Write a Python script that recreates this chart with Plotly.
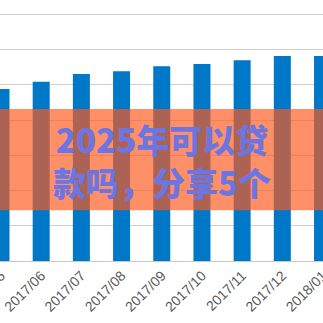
import plotly.graph_objects as go

categories = ["2017/05", "2017/06", "2017/07", "2017/08", "2017/09",
              "2017/10", "2017/11", "2017/12", "2018/01"]
values = [4.88, 5.09, 5.31, 5.39, 5.53, 5.59, 5.70, 5.82, 5.82]
overlay_lines = ["2025年可以贷", "款吗，分享5个"]

W = H = 323
base_px = 260.8
grid_px = 35.2
step_px = 40.19

fig = go.Figure()
fig.add_trace(go.Bar(
    x=list(range(len(categories))), y=values,
    marker=dict(color="rgb(0,120,200)", line=dict(width=0)),
    width=17 / step_px,
))

x0 = -1.0 / step_px
fig.update_layout(
    width=W, height=H,
    margin=dict(l=0, r=0, t=0, b=H - base_px, autoexpand=False),
    paper_bgcolor="white", plot_bgcolor="white",
    showlegend=False,
    xaxis=dict(
        range=[x0, x0 + W / step_px],
        automargin=False,
        tickmode="array", tickvals=list(range(len(categories))),
        ticktext=categories, tickangle=-45,
        tickfont=dict(family="Liberation Sans", size=14, color="#595959"),
        ticklabeloverflow="allow",
        showgrid=False, zeroline=False,
        showline=True, linecolor="#c8c8c8", linewidth=1,
        ticks="", ticklen=0,
    ),
    yaxis=dict(
        range=[0, base_px / grid_px],
        automargin=False,
        dtick=1, showticklabels=False,
        showgrid=True, gridcolor="#cfcfcf", gridwidth=1,
        zeroline=False, showline=False, ticks="",
    ),
    shapes=[dict(
        type="rect", xref="paper", yref="paper",
        x0=0, x1=1, y0=1 - 210 / base_px, y1=1 - 109 / base_px,
        fillcolor="rgba(255,90,30,0.68)", line=dict(width=0), layer="above",
    )],
    annotations=[dict(
        xref="paper", yref="paper", x=0.5, y=1 - 160 / base_px,
        text="<br>".join(overlay_lines),
        showarrow=False, xanchor="center", yanchor="middle",
        font=dict(family="Noto Sans CJK SC", size=33, weight=900,
                  color="rgb(108,117,224)"),
    )],
)

fig.write_html("out.html")
